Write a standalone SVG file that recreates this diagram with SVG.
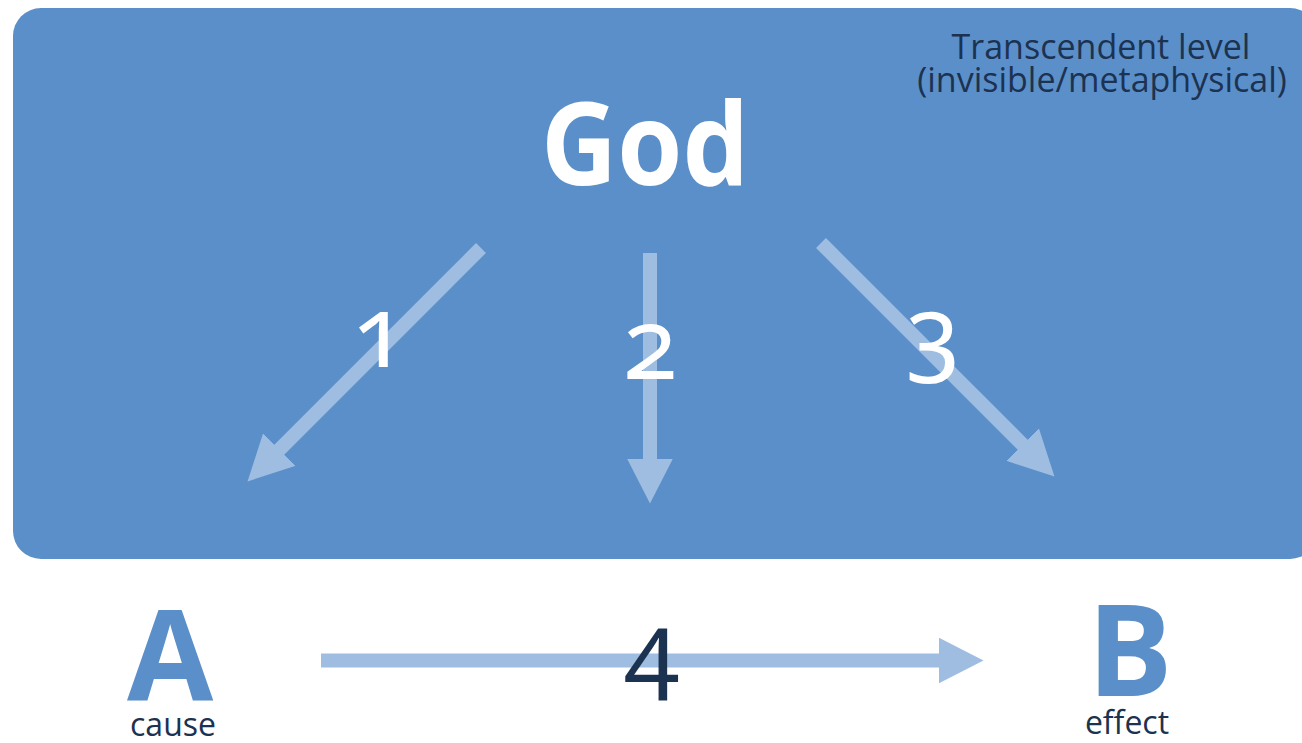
<svg xmlns="http://www.w3.org/2000/svg" width="1302" height="743" viewBox="0 0 1302 743">
<style>
.dark{fill:#1C3251;font-family:"Open Sans","Noto Sans",sans-serif}
.num{font-family:"Noto Sans","Open Sans",sans-serif;font-variant-numeric:oldstyle-nums;font-feature-settings:"onum" 1;font-size:100px;text-anchor:middle}
.big{fill:#5B8FC9;font-family:"Open Sans","Noto Sans",sans-serif;font-weight:bold;text-anchor:middle}
.arr{stroke:#9EBDE1;stroke-width:14;fill:none;marker-end:url(#head)}
</style>
<defs>
<marker id="head" markerUnits="userSpaceOnUse" markerWidth="46" markerHeight="46" refX="0.5" refY="23" orient="auto" viewBox="0 0 46 46">
<path d="M0,0 L45,23 L0,46 Z" fill="#9EBDE1"/>
</marker>
</defs>
<g id="level">
<rect x="13" y="8" width="1305" height="551" rx="28" ry="28" fill="#5B8FC9"/>
<text class="dark" x="1101" y="59" font-size="34" text-anchor="middle">Transcendent level</text>
<text class="dark" x="1102" y="92" font-size="34" text-anchor="middle">(invisible/metaphysical)</text>
</g>
<g id="god">
<text x="645" y="185" font-family="Open Sans, Noto Sans, sans-serif" font-weight="bold" font-size="115" fill="#FFFFFF" text-anchor="middle" textLength="208" lengthAdjust="spacingAndGlyphs">God</text>
</g>
<g id="connectors">
<line class="arr" x1="481" y1="248" x2="279" y2="450"/>
<line class="arr" x1="650" y1="253" x2="650" y2="459"/>
<line class="arr" x1="821" y1="243" x2="1023" y2="445"/>
<line class="arr" x1="321" y1="660.5" x2="939" y2="660.5"/>
<text class="num" x="379" y="367" fill="#FFFFFF">1</text>
<text class="num" x="650" y="379" fill="#FFFFFF">2</text>
<text class="num" x="933" y="367" fill="#FFFFFF">3</text>
<text class="num" x="652" y="684" fill="#1C3251">4</text>
</g>
<g id="nodeA">
<text class="big" x="170" y="700" font-size="125">A</text>
<text class="dark" x="173" y="736" font-size="32" text-anchor="middle">cause</text>
</g>
<g id="nodeB">
<text class="big" x="1130" y="696" font-size="127">B</text>
<text class="dark" x="1127" y="734" font-size="32" text-anchor="middle">effect</text>
</g>
</svg>
